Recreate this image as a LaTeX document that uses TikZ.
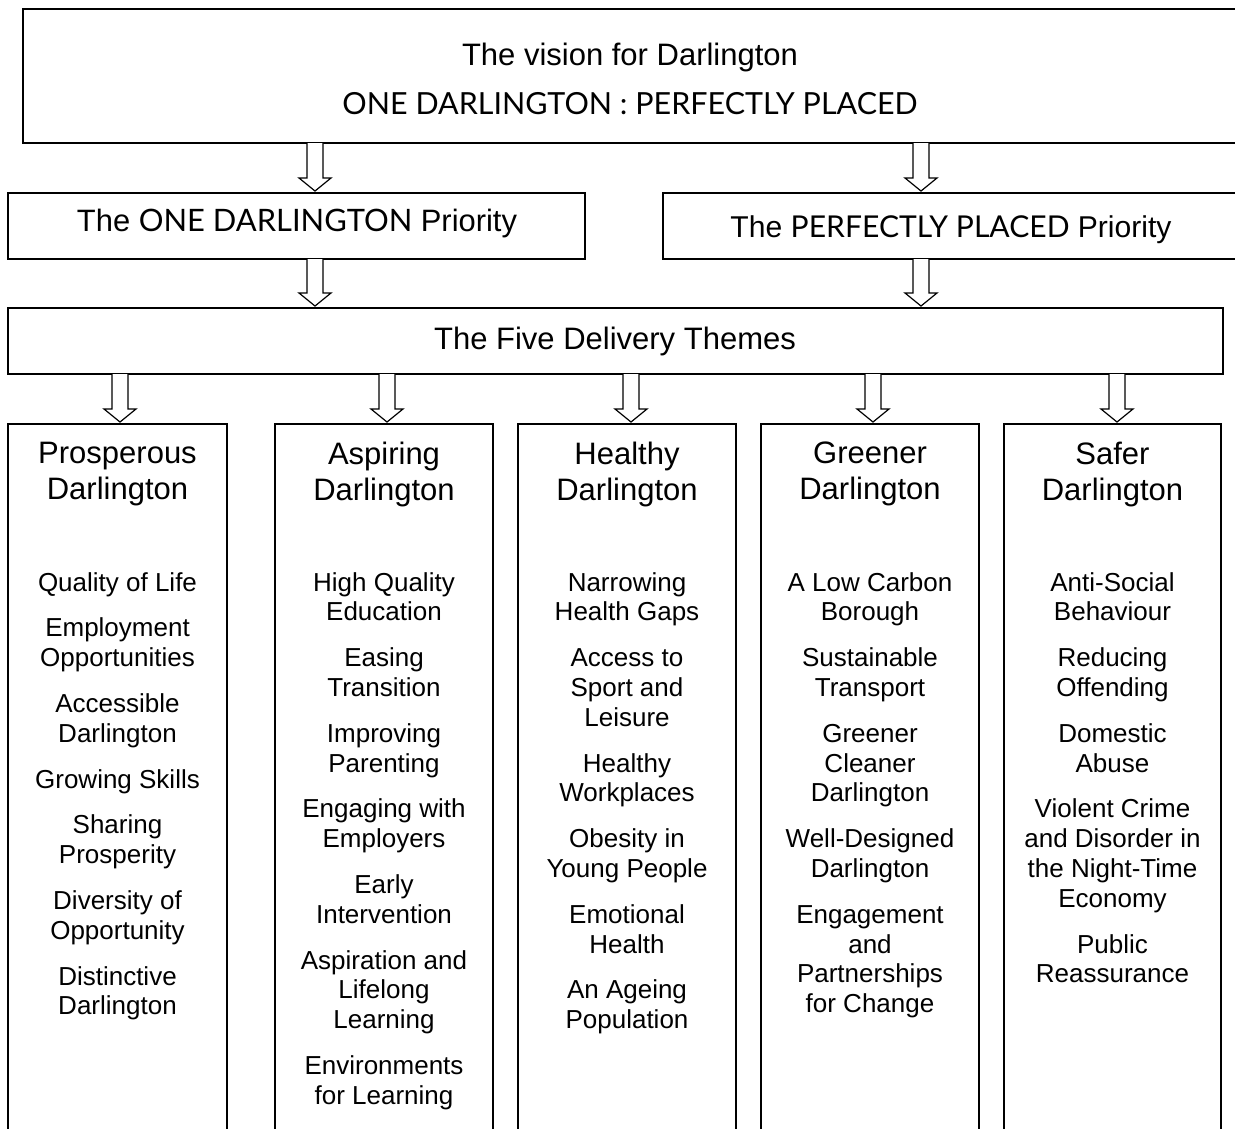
\documentclass[tikz,border=0pt]{standalone}
\usepackage{fontspec}
\usepackage{graphicx}
\setmainfont{Liberation Sans}
\newfontfamily\gill{Lato}
\usetikzlibrary{calc}
\tikzset{x=1pt,y=-1pt,
  boxed/.style={draw, line width=1.5pt, inner sep=0pt, outer sep=0pt, anchor=north west},
  bigtxt/.style={font=\fontsize{31}{36}\selectfont, align=center, inner sep=0pt},
  itemtxt/.style={font=\fontsize{26}{29.8}\selectfont, align=center, inner sep=0pt, anchor=north},
  barrow/.style={draw, line width=1.2pt, fill=white, line join=miter}}
\newcommand\blockarrow[2]{\draw[barrow] let \p1=#1, \p2=#2 in
  (\x1-8pt,\y1) -- (\x1-8pt,\y2+15pt) -- (\x1-16pt,\y2+15pt) -- (\x1,\y2+2pt)
  -- (\x1+16pt,\y2+15pt) -- (\x1+8pt,\y2+15pt) -- (\x1+8pt,\y1);}
\begin{document}
\begin{tikzpicture}
\useasboundingbox (0,0) rectangle (1235,1128);
\clip (0,0) rectangle (1235,1128);
\fill[white] (0,0) rectangle (1235,1128);
% boxes
\node[boxed, minimum width=1230, minimum height=134] (top) at (23,9) {};
\node[boxed, minimum width=577, minimum height=66] (lp) at (8,193) {};
\node[boxed, minimum width=590, minimum height=66] (rp) at (663,193) {};
\node[boxed, minimum width=1215, minimum height=66] (themes) at (8,308) {};
\node[boxed, minimum width=219, minimum height=720] (c1) at (8,424) {};
\node[boxed, minimum width=218, minimum height=720] (c2) at (275,424) {};
\node[boxed, minimum width=218, minimum height=720] (c3) at (518,424) {};
\node[boxed, minimum width=218, minimum height=720] (c4) at (761,424) {};
\node[boxed, minimum width=217, minimum height=720] (c5) at (1004,424) {};
% texts
\node[bigtxt, anchor=base] (t1) at (630,65) {The vision for Darlington};
\node[inner sep=0pt, anchor=base] (t2) at (630,114) {\resizebox{575pt}{!}{\gill ONE DARLINGTON : PERFECTLY PLACED}};
\node[inner sep=0pt, anchor=base] (lpt) at (297,231) {\resizebox{440pt}{!}{\fontsize{31}{36}\selectfont The {\gill ONE DARLINGTON} Priority}};
\node[inner sep=0pt, anchor=base] (rpt) at (951,237) {\resizebox{441pt}{!}{\fontsize{31}{36}\selectfont The {\gill PERFECTLY PLACED} Priority}};
\node[bigtxt, anchor=base] (tht) at (615,349) {The Five Delivery Themes};
% column titles
\node[bigtxt, anchor=north] (h1) at (117.5,442) {Prosperous\\Darlington};
\node[bigtxt, anchor=north] (h2) at (384,442) {Aspiring\\Darlington};
\node[bigtxt, anchor=north] (h3) at (627,442) {Healthy\\Darlington};
\node[bigtxt, anchor=north] (h4) at (870,442) {Greener\\Darlington};
\node[bigtxt, anchor=north] (h5) at (1112.5,442) {Safer\\Darlington};
% items
\node[itemtxt] (i1) at (117.5,572) {Quality of Life\\[16pt]Employment\\Opportunities\\[16pt]Accessible\\Darlington\\[16pt]Growing Skills\\[16pt]Sharing\\Prosperity\\[16pt]Diversity of\\Opportunity\\[16pt]Distinctive\\Darlington};
\node[itemtxt] (i2) at (384,572) {High Quality\\Education\\[16pt]Easing\\Transition\\[16pt]Improving\\Parenting\\[16pt]Engaging with\\Employers\\[16pt]Early\\Intervention\\[16pt]Aspiration and\\Lifelong\\Learning\\[16pt]Environments\\for Learning};
\node[itemtxt] (i3) at (627,572) {Narrowing\\Health Gaps\\[16pt]Access to\\Sport and\\Leisure\\[16pt]Healthy\\Workplaces\\[16pt]Obesity in\\Young People\\[16pt]Emotional\\Health\\[16pt]An Ageing\\Population};
\node[itemtxt] (i4) at (870,572) {A Low Carbon\\Borough\\[16pt]Sustainable\\Transport\\[16pt]Greener\\Cleaner\\Darlington\\[16pt]Well-Designed\\Darlington\\[16pt]Engagement\\and\\Partnerships\\for Change};
\node[itemtxt] (i5) at (1112.5,572) {Anti-Social\\Behaviour\\[16pt]Reducing\\Offending\\[16pt]Domestic\\Abuse\\[16pt]Violent Crime\\and Disorder in\\the Night-Time\\Economy\\[16pt]Public\\Reassurance};
% arrow x positions
\coordinate (ax1) at (315,0);
\coordinate (ax2) at (921,0);
\coordinate (bx1) at (120,0);
\coordinate (bx2) at (387,0);
\coordinate (bx3) at (631,0);
\coordinate (bx4) at (873,0);
\coordinate (bx5) at (1117,0);
\blockarrow{(top.south -| ax1)}{(lp.north -| ax1)}
\blockarrow{(top.south -| ax2)}{(rp.north -| ax2)}
\blockarrow{(lp.south -| ax1)}{(themes.north -| ax1)}
\blockarrow{(rp.south -| ax2)}{(themes.north -| ax2)}
\blockarrow{(themes.south -| bx1)}{(c1.north -| bx1)}
\blockarrow{(themes.south -| bx2)}{(c2.north -| bx2)}
\blockarrow{(themes.south -| bx3)}{(c3.north -| bx3)}
\blockarrow{(themes.south -| bx4)}{(c4.north -| bx4)}
\blockarrow{(themes.south -| bx5)}{(c5.north -| bx5)}
\end{tikzpicture}
\end{document}
